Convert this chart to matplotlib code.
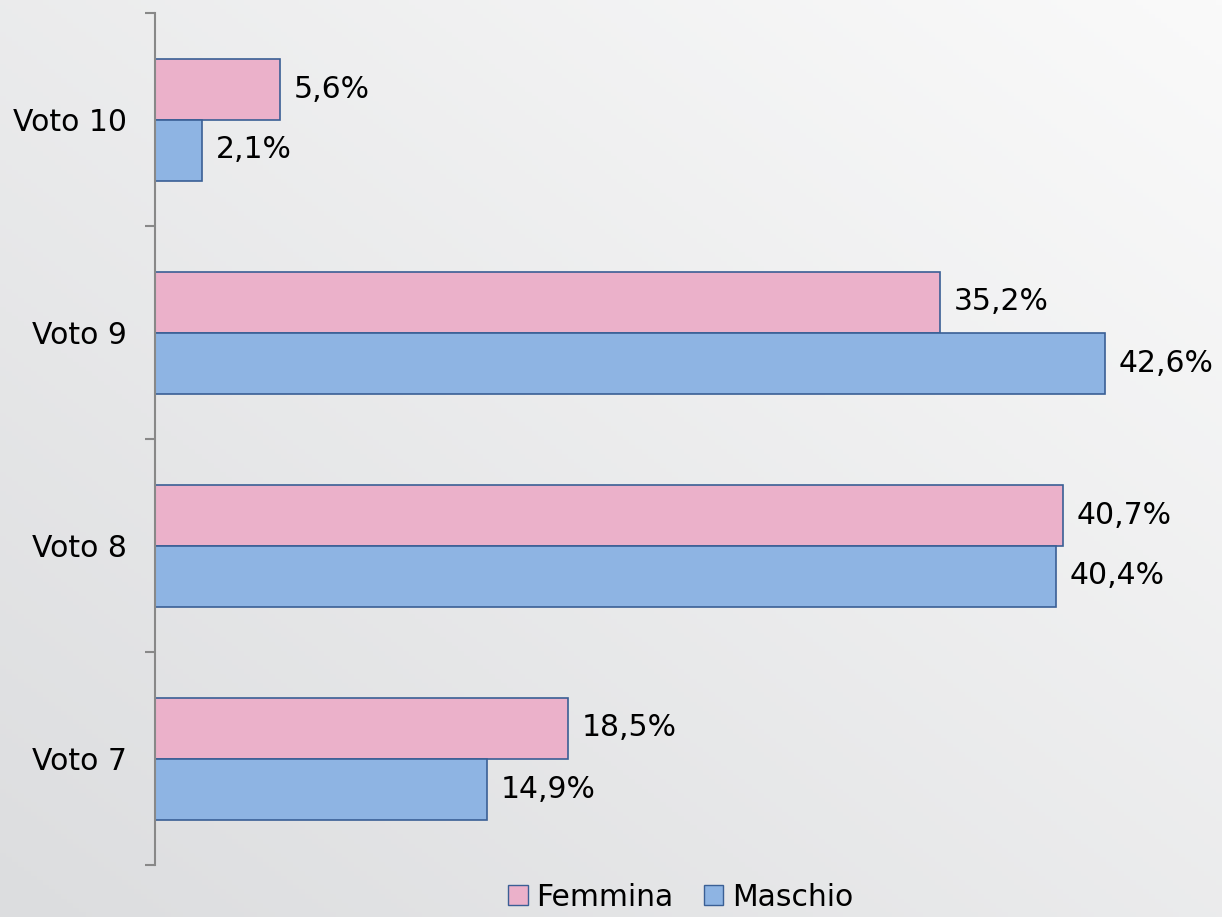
import matplotlib
matplotlib.use("Agg")
import matplotlib.pyplot as plt
import numpy as np
from matplotlib.patches import Patch

categories = ["Voto 7", "Voto 8", "Voto 9", "Voto 10"]
femmina = [18.5, 40.7, 35.2, 5.6]
maschio = [14.9, 40.4, 42.6, 2.1]
series_names = ["Femmina", "Maschio"]

plt.rcParams['font.family'] = ['DejaVu Sans']

W, H = 1222, 917
fig = plt.figure(figsize=(W / 100, H / 100), dpi=100)

# background diagonal gradient: dark bottom-left, light top-right
bg = fig.add_axes([0, 0, 1, 1])
yy, xx = np.mgrid[0:1:200j, 0:1:200j]
t = (xx + yy) / 2.0
c0 = np.array([0xDC, 0xDD, 0xDF]) / 255.0
c1 = np.array([0xFA, 0xFA, 0xFA]) / 255.0
img = c0[None, None, :] * (1 - t[..., None]) + c1[None, None, :] * t[..., None]
bg.imshow(img, extent=[0, 1, 0, 1], aspect='auto', origin='lower')
bg.axis('off')

left = 155 / W
bottom = (H - 865) / H
top = 13 / H
ax = fig.add_axes([left, bottom, 1 - left, 1 - bottom - top])
ax.set_facecolor('none')

y = np.arange(len(categories))
h = 61 / 213
pink = '#EBB1CA'
blue = '#8EB4E3'
edge = '#3A5F95'
ax.barh(y + h / 2, femmina, height=h, color=pink, edgecolor=edge, linewidth=1.2, label=series_names[0])
ax.barh(y - h / 2, maschio, height=h, color=blue, edgecolor=edge, linewidth=1.2, label=series_names[1])

fs = 21.5
for yi, v in zip(y, femmina):
    ax.annotate(f"{v:.1f}%".replace('.', ','), (v, yi + h / 2), xytext=(10, 0),
                textcoords='offset points', va='center', ha='left', fontsize=fs)
for yi, v in zip(y, maschio):
    ax.annotate(f"{v:.1f}%".replace('.', ','), (v, yi - h / 2), xytext=(10, 0),
                textcoords='offset points', va='center', ha='left', fontsize=fs)

ax.set_xlim(0, (W - 155) / 22.3)
ax.set_ylim(-0.5, len(categories) - 0.5)
ax.set_yticks(y)
ax.set_yticklabels(categories, fontsize=fs)
ax.set_yticks(np.arange(-0.5, len(categories), 1.0), minor=True)
ax.tick_params(axis='y', which='major', length=0, pad=20)
ax.tick_params(axis='y', which='minor', length=7, color='#888888', width=1.5)
ax.set_xticks([])
for s in ['top', 'right', 'bottom']:
    ax.spines[s].set_visible(False)
ax.spines['left'].set_color('#888888')
ax.spines['left'].set_linewidth(1.5)

handles = [Patch(facecolor=pink, edgecolor=edge, label=series_names[0]),
           Patch(facecolor=blue, edgecolor=edge, label=series_names[1])]
fig.legend(handles=handles, loc='center', bbox_to_anchor=(0.557, (H - 897) / H),
           ncol=2, frameon=False, fontsize=fs, handlelength=0.65, handleheight=0.65,
           handletextpad=0.3, columnspacing=1.0, borderaxespad=0)

fig.savefig('out.png', dpi=100)
